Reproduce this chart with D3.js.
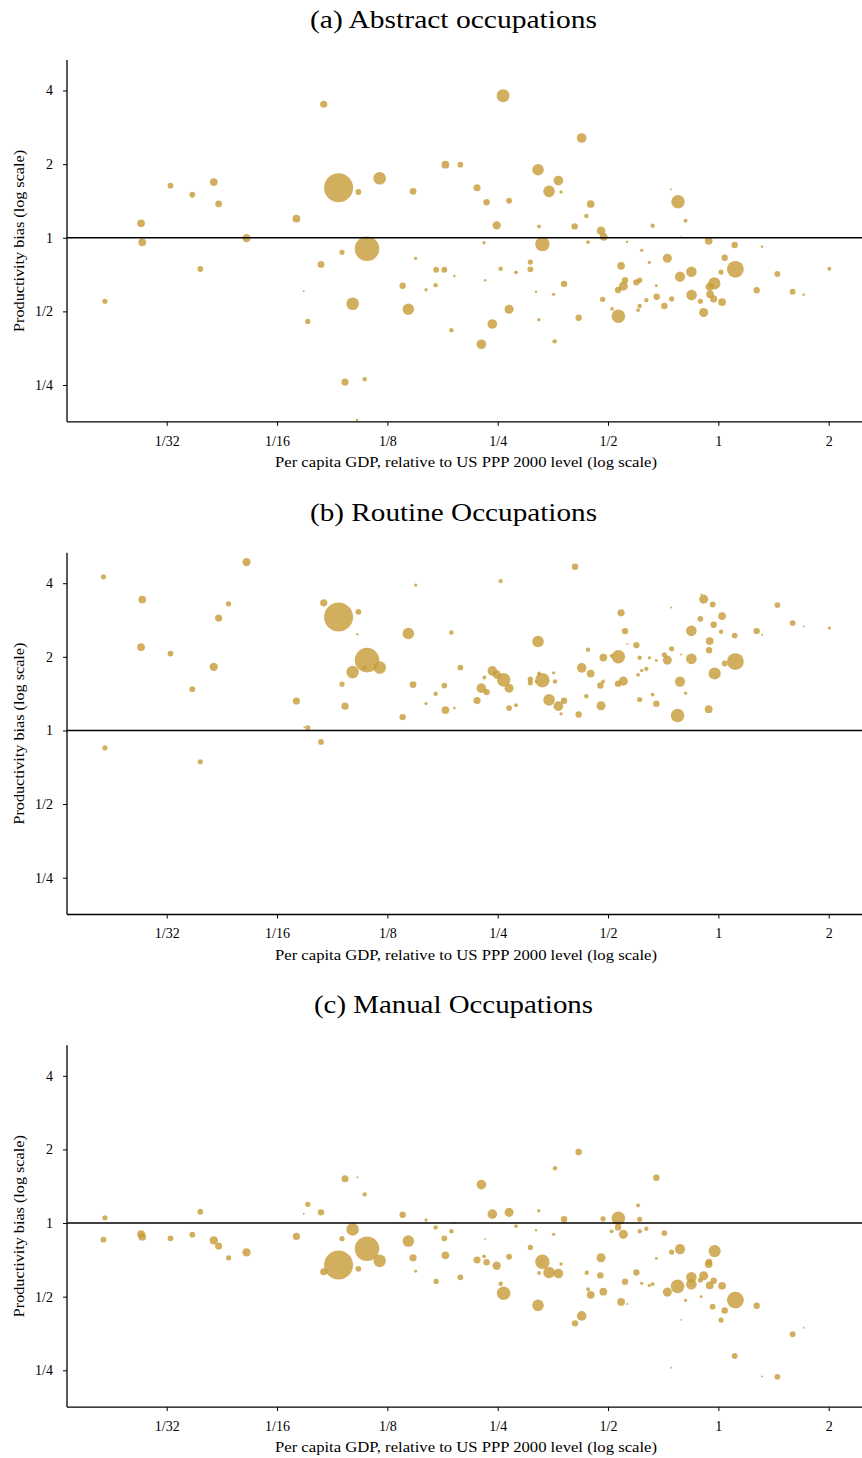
<!DOCTYPE html>
<html>
<head>
<meta charset="utf-8">
<script src="https://cdn.jsdelivr.net/npm/d3@7"></script>
<style>
  html, body { margin: 0; padding: 0; background: #fff; }
  svg { display: block; }
  text { font-family: "Liberation Serif", "DejaVu Serif", serif; fill: #000; }
</style>
</head>
<body>
<svg id="chart" width="862" height="1458"></svg>
<script>
// Each point: [per capita GDP relative to US (PPP, 2000), productivity bias, population weight]
const abstractPoints = [
  [0.0838,3.513,55],[0.0920,1.601,900],[0.0320,1.632,36],[0.0367,1.499,36],[0.0420,1.690,64],
  [0.0433,1.377,49],[0.0266,1.145,64],[0.0706,1.196,64],[0.0268,0.958,64],[0.0516,0.997,74],
  [0.0386,0.745,36],[0.0824,0.778,49],[0.0940,0.872,29],[0.0739,0.604,4],[0.0212,0.550,29],
  [0.0758,0.455,29],[0.2586,3.809,180],[0.4237,2.557,100],[0.1042,1.538,36],[0.1191,1.750,169],
  [0.1469,1.548,49],[0.1800,1.989,64],[0.1977,1.989,36],[0.3221,1.897,144],[0.3660,1.711,100],
  [0.3452,1.548,144],[0.3722,1.538,12],[0.2196,1.601,55],[0.2332,1.396,44],[0.2685,1.417,36],
  [0.4483,1.374,64],[0.4363,1.227,21],[0.2484,1.124,74],[0.3241,1.113,16],[0.4054,1.113,44],
  [0.4786,1.068,81],[0.4864,1.009,64],[0.4410,0.960,16],[0.2295,0.954,12],[0.3310,0.942,225],
  [0.1100,0.902,645],[0.1493,0.824,12],[0.1699,0.740,36],[0.1788,0.740,36],[0.1904,0.697,7],
  [0.2310,0.670,7],[0.2547,0.747,21],[0.2806,0.722,16],[0.3069,0.795,29],[0.3069,0.743,36],
  [0.1376,0.636,44],[0.1594,0.613,12],[0.1693,0.640,21],[0.3181,0.602,7],[0.3553,0.587,12],
  [0.3793,0.648,44],[0.4834,0.560,29],[0.1005,0.537,169],[0.1426,0.510,144],[0.2685,0.510,88],
  [0.2417,0.444,100],[0.4158,0.471,44],[0.3236,0.462,12],[0.1869,0.419,21],[0.2256,0.367,100],
  [0.3575,0.377,21],[0.0958,0.257,55],[0.1084,0.264,21],[0.1033,0.180,7],[0.7427,1.578,4],
  [0.7760,1.404,196],[0.8140,1.174,16],[0.6618,1.120,21],[0.7908,1.004,4],[0.5635,0.963,7],
  [0.9409,0.972,64],[1.1078,0.934,44],[1.3159,0.919,7],[0.6177,0.888,12],[0.7257,0.824,88],
  [1.0404,0.828,44],[0.5427,0.768,64],[0.6482,0.793,12],[1.1127,0.743,303],[0.8440,0.726,121],
  [0.7859,0.693,112],[1.0170,0.724,29],[2.0085,0.747,16],[1.4488,0.711,36],[0.5564,0.671,44],
  [0.6100,0.671,29],[0.5975,0.657,44],[0.5505,0.634,88],[0.5325,0.611,44],[0.6773,0.636,9],
  [0.9752,0.651,159],[0.9468,0.630,74],[1.2720,0.610,44],[1.5947,0.602,36],[1.7089,0.585,7],
  [0.6787,0.574,44],[0.6361,0.556,21],[0.7455,0.562,29],[0.8450,0.583,121],[0.9492,0.587,64],
  [0.9709,0.562,55],[1.0235,0.546,64],[0.8932,0.550,29],[0.7123,0.526,44],[0.6100,0.526,21],
  [0.6039,0.506,16],[0.5128,0.512,16],[0.5335,0.478,196],[0.9118,0.495,88]
];

const routinePoints = [
  [0.0210,4.249,29],[0.0516,4.879,74],[0.0268,3.431,64],[0.0461,3.295,29],[0.0433,2.880,55],
  [0.0838,3.326,55],[0.0920,2.907,900],[0.0266,2.191,64],[0.0320,2.063,36],[0.0420,1.820,74],
  [0.0367,1.475,36],[0.0706,1.318,55],[0.0758,1.025,29],[0.0742,1.032,4],[0.0824,0.898,36],
  [0.0212,0.849,29],[0.0386,0.744,29],[0.4064,4.668,44],[0.2547,4.080,21],[0.1493,3.929,12],
  [0.1042,3.055,36],[0.1035,2.476,6],[0.1426,2.491,144],[0.1869,2.514,21],[0.3221,2.310,144],
  [0.4410,2.136,21],[0.4855,1.987,64],[0.1100,1.939,645],[0.1191,1.808,169],[0.1005,1.732,169],
  [0.1084,1.803,21],[0.1977,1.808,36],[0.0940,1.546,29],[0.1469,1.541,49],[0.1788,1.526,36],
  [0.1693,1.412,21],[0.0958,1.257,55],[0.1376,1.134,44],[0.1594,1.288,12],[0.1800,1.211,64],
  [0.1904,1.234,7],[0.2196,1.325,55],[0.2256,1.489,100],[0.2332,1.435,44],[0.2300,1.646,16],
  [0.2417,1.753,100],[0.2484,1.693,74],[0.2595,1.610,196],[0.2685,1.489,88],[0.2685,1.234,36],
  [0.2806,1.269,16],[0.3069,1.621,29],[0.3069,1.566,29],[0.3241,1.709,16],[0.3310,1.606,225],
  [0.3181,1.585,7],[0.3553,1.720,12],[0.3583,1.585,21],[0.3452,1.334,144],[0.3660,1.257,100],
  [0.3793,1.322,44],[0.3722,1.169,12],[0.4158,1.162,44],[0.4237,1.803,100],[0.4483,1.709,64],
  [0.4363,1.381,21],[0.4786,1.261,88],[0.4765,1.526,44],[0.4846,1.585,16],[0.8987,3.610,4],
  [0.9118,3.444,88],[0.9648,3.273,36],[1.0235,2.934,64],[0.7427,3.182,4],[0.5427,3.027,55],
  [1.4488,3.255,36],[1.5947,2.747,36],[1.7089,2.661,4],[2.0085,2.621,12],[0.8932,2.860,36],
  [0.9709,2.704,44],[0.8440,2.555,121],[1.0170,2.531,21],[1.1078,2.444,36],[1.2720,2.548,44],
  [1.3159,2.460,4],[0.5564,2.548,44],[0.9468,2.319,64],[0.9433,2.130,44],[0.5975,2.233,44],
  [0.5645,2.254,4],[0.7455,2.157,29],[0.7908,2.044,4],[0.7123,2.038,29],[0.7257,1.939,88],
  [0.8440,1.963,121],[1.1127,1.913,303],[1.0404,1.878,36],[0.5335,2.000,196],[0.5115,2.019,16],
  [0.6100,1.981,21],[0.6482,1.981,12],[0.6773,1.931,9],[0.6361,1.786,21],[0.6177,1.758,12],
  [0.6039,1.688,16],[0.9770,1.709,159],[0.7859,1.585,112],[0.5505,1.591,88],[0.5325,1.551,44],
  [0.8140,1.421,12],[0.6618,1.402,16],[0.6100,1.338,29],[0.6773,1.285,44],[0.7740,1.151,196],
  [0.9409,1.222,64]
];

const manualPoints = [
  [0.0212,1.051,29],[0.0210,0.855,36],[0.0266,0.902,64],[0.0268,0.879,64],[0.0320,0.866,36],
  [0.0367,0.896,36],[0.0386,1.112,36],[0.0420,0.850,74],[0.0433,0.805,55],[0.0461,0.721,29],
  [0.0516,0.759,74],[0.0706,0.882,55],[0.0758,1.193,29],[0.0739,1.092,4],[0.0824,1.106,44],
  [0.0838,0.632,55],[0.0920,0.673,900],[0.0940,0.863,29],[0.4158,1.952,44],[0.3583,1.674,21],
  [0.0958,1.518,55],[0.1035,1.538,4],[0.1084,1.310,21],[0.2256,1.435,100],[0.2417,1.088,100],
  [0.2685,1.106,88],[0.3236,1.123,12],[0.3793,1.036,44],[0.4846,1.041,29],[0.1376,1.081,44],
  [0.1594,1.029,12],[0.1904,1.003,4],[0.2806,0.972,16],[0.3181,0.934,7],[0.3553,0.899,12],
  [0.1693,0.960,21],[0.1869,0.925,21],[0.1005,0.942,169],[0.1426,0.844,144],[0.1788,0.866,36],
  [0.2310,0.860,4],[0.1100,0.785,645],[0.1191,0.701,169],[0.1042,0.650,36],[0.1469,0.721,55],
  [0.1493,0.636,12],[0.1800,0.738,64],[0.2196,0.706,55],[0.2295,0.731,16],[0.2332,0.691,44],
  [0.2484,0.669,74],[0.2685,0.728,36],[0.3069,0.795,29],[0.3310,0.694,225],[0.3452,0.628,144],
  [0.3660,0.622,100],[0.3722,0.680,12],[0.3241,0.625,16],[0.4375,0.626,21],[0.4786,0.721,88],
  [0.4765,0.611,44],[0.4855,0.524,64],[0.4410,0.536,16],[0.4483,0.509,64],[0.1699,0.577,29],
  [0.1977,0.600,36],[0.2547,0.565,21],[0.2595,0.516,196],[0.3221,0.461,144],[0.4237,0.417,100],
  [0.4064,0.389,44],[0.6773,1.532,44],[0.6039,1.181,16],[0.5335,1.045,196],[0.6100,1.036,29],
  [0.5325,0.960,44],[0.5115,0.925,16],[0.5505,0.899,88],[0.6100,0.925,21],[0.6361,0.948,21],
  [0.7123,0.910,36],[0.7455,0.761,29],[0.7859,0.783,112],[0.9770,0.768,159],[0.9433,0.694,44],
  [0.9409,0.680,64],[0.6773,0.717,9],[0.5975,0.628,44],[0.5564,0.575,44],[0.6177,0.567,12],
  [0.6482,0.556,12],[0.6618,0.563,16],[0.8440,0.600,121],[0.8440,0.562,121],[0.8932,0.585,29],
  [0.9118,0.609,88],[0.9709,0.581,44],[0.9468,0.556,64],[1.0235,0.554,64],[0.7257,0.522,88],
  [0.7740,0.551,196],[0.5427,0.476,64],[0.5645,0.467,4],[0.8140,0.483,12],[0.8971,0.500,9],
  [1.1127,0.484,303],[0.9648,0.455,36],[1.0404,0.439,44],[1.0170,0.401,29],[1.2720,0.459,44],
  [0.7908,0.402,4],[1.5947,0.351,36],[1.7089,0.373,4],[1.1078,0.286,36],[0.7427,0.256,4],
  [1.3159,0.236,4],[1.4488,0.235,36]
];

const panelTitles = ["(a) Abstract occupations", "(b) Routine Occupations", "(c) Manual Occupations"];
const xTickValues = [1/32, 1/16, 1/8, 1/4, 1/2, 1, 2];
const xTickLabels = ["1/32", "1/16", "1/8", "1/4", "1/2", "1", "2"];
const yTickValues = [1/4, 1/2, 1, 2, 4];
const yTickLabels = ["1/4", "1/2", "1", "2", "4"];
const xAxisTitle = "Per capita GDP, relative to US PPP 2000 level (log scale)";
const yAxisTitle = "Productivity bias (log scale)";

const svg = d3.select("#chart");

// layout
const plotLeft = 67, plotRight = 862;
const panelTops = [60, 552.7, 1045.3];
const panelHeight = 361.8;
const titleWidths = [287, 287, 279];
const dotColor = "#c79b37";

const x = d3.scaleLog().base(2).domain([1/32, 2]).range([166.7, 828.7]);
const r = d3.scaleSqrt().domain([0, 900]).range([0, 14.5]);

const panels = [abstractPoints, routinePoints, manualPoints];

panels.forEach((points, i) => {
  const top = panelTops[i];
  const bottom = top + panelHeight;
  const y = d3.scaleLog().base(2).domain([1/4, 4]).range([top + 325, top + 30.5]);
  const g = svg.append("g");

  // title
  g.append("text")
    .attr("x", 453.5).attr("y", top - 32)
    .attr("text-anchor", "middle")
    .attr("textLength", titleWidths[i])
    .attr("lengthAdjust", "spacingAndGlyphs")
    .style("font-size", "25px")
    .text(panelTitles[i]);

  // points
  const clipId = "clip" + i;
  svg.append("clipPath").attr("id", clipId)
    .append("rect").attr("x", plotLeft).attr("y", top).attr("width", plotRight - plotLeft).attr("height", panelHeight);
  g.append("g").attr("clip-path", `url(#${clipId})`)
    .selectAll("circle").data(points).join("circle")
    .attr("cx", d => x(d[0]))
    .attr("cy", d => y(d[1]))
    .attr("r", d => r(d[2]))
    .attr("fill", dotColor)
    .attr("fill-opacity", 0.8);

  // reference line at bias = 1
  g.append("line")
    .attr("x1", plotLeft).attr("x2", plotRight)
    .attr("y1", y(1)).attr("y2", y(1))
    .attr("stroke", "#000").attr("stroke-width", 1.6);

  // x axis
  const xAxis = d3.axisBottom(x).tickValues(xTickValues)
    .tickFormat((d, k) => xTickLabels[k]).tickSize(4).tickPadding(10);
  const xg = g.append("g").attr("transform", `translate(0,${bottom})`).call(xAxis);
  xg.select(".domain").remove();
  xg.selectAll("text").style("font-size", "14px").style("font-family", '"Liberation Serif", serif');
  xg.selectAll("line").attr("stroke-width", 1);
  g.append("line").attr("x1", plotLeft).attr("x2", plotRight)
    .attr("y1", bottom).attr("y2", bottom).attr("stroke", "#000").attr("stroke-width", 1.3);

  // y axis
  const yAxis = d3.axisLeft(y).tickValues(yTickValues)
    .tickFormat((d, k) => yTickLabels[k]).tickSize(4).tickPadding(10);
  const yg = g.append("g").attr("transform", `translate(${plotLeft},0)`).call(yAxis);
  yg.select(".domain").remove();
  yg.selectAll("text").style("font-size", "14px").style("font-family", '"Liberation Serif", serif');
  yg.selectAll("line").attr("stroke-width", 1);
  g.append("line").attr("x1", plotLeft).attr("x2", plotLeft)
    .attr("y1", top).attr("y2", bottom).attr("stroke", "#000").attr("stroke-width", 1.3);

  // axis titles
  g.append("text")
    .attr("x", 466).attr("y", bottom + 45)
    .attr("text-anchor", "middle")
    .attr("textLength", 382)
    .attr("lengthAdjust", "spacingAndGlyphs")
    .style("font-size", "15.5px")
    .text(xAxisTitle);
  g.append("text")
    .attr("transform", `translate(24,${(top + bottom) / 2}) rotate(-90)`)
    .attr("text-anchor", "middle")
    .attr("textLength", 182)
    .attr("lengthAdjust", "spacingAndGlyphs")
    .style("font-size", "15px")
    .text(yAxisTitle);
});
</script>
</body>
</html>
